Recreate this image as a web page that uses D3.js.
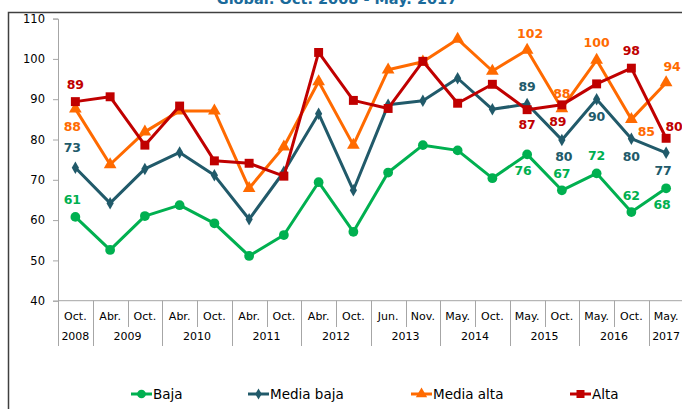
<!DOCTYPE html>
<html>
<head>
<meta charset="utf-8">
<title>Global: Oct. 2008 - May. 2017</title>
<script src="https://d3js.org/d3.v7.min.js"></script>
<style>
body { margin: 0; background: #fff; }
svg { display: block; font-family: "DejaVu Sans", Verdana, sans-serif; }
</style>
</head>
<body>
<svg width="682" height="409"></svg>
<script>
// categories (month row) and year groups
var months = ["Oct.","Abr.","Oct.","Abr.","Oct.","Abr.","Oct.","Abr.","Oct.","Jun.","Nov.","May.","Oct.","May.","Oct.","May.","Oct.","May."];
var years = ["2008","2009","2009","2010","2010","2011","2011","2012","2012","2013","2013","2014","2014","2015","2015","2016","2016","2017"];

// series values
var baja      = [60.8,52.6,61.0,63.7,59.2,51.1,56.3,69.4,57.1,71.8,78.6,77.3,70.4,76.3,67.4,71.6,62.0,67.9];
var mediaBaja = [73.0,64.2,72.7,76.8,71.1,60.2,72.0,86.4,67.4,88.6,89.6,95.2,87.5,88.8,79.9,90.0,80.2,76.7];
var mediaAlta = [87.6,73.8,81.9,87.1,87.1,67.9,78.2,94.4,78.6,97.3,99.3,104.9,97.0,102.2,87.7,99.7,85.0,94.1];
var alta      = [89.4,90.6,78.6,88.3,74.7,74.1,70.9,101.6,89.7,87.7,99.4,89.0,93.7,87.4,88.6,93.8,97.7,80.3];

var yTicks = [40,50,60,70,80,90,100,110];

var series = [
  {name:"Baja",       values:baja,      color:"#00b050", symbol:d3.symbolCircle,   size:75},
  {name:"Media baja", values:mediaBaja, color:"#215a6a", symbol:d3.symbolDiamond,  size:45},
  {name:"Media alta", values:mediaAlta, color:"#ff6a00", symbol:d3.symbolTriangle, size:70},
  {name:"Alta",       values:alta,      color:"#c00000", symbol:d3.symbolSquare,   size:80}
];

// data labels: series index, point index, text offset
var labels = [
  [3,0,0,-13],[3,13,0,19],[3,14,-4,21],[3,16,0,-13],[3,17,8,-7],
  [2,0,-3,22],[2,13,3,-12],[2,14,0,-10],[2,15,0,-13],[2,16,15,17],[2,17,6,-12],
  [1,0,-3,-16],[1,13,0,-13],[1,14,2,21],[1,15,0,22],[1,16,0,22],[1,17,-3,22],
  [0,0,-3,-13],[0,13,-4,21],[0,14,0,-12],[0,15,0,-13],[0,16,0,-12],[0,17,-4,21]
];

var svg = d3.select("svg");

var x = d3.scaleBand().domain(d3.range(months.length)).range([58, 683.5]);
var y = d3.scaleLinear().domain([40,110]).range([300.7, 18.6]);

// outer frame
svg.append("rect")
  .attr("x", 8.5).attr("y", 12.5).attr("width", 700).attr("height", 420)
  .attr("fill", "none").attr("stroke", "#404040").attr("stroke-width", 1.5);

// title (cut off at the top, as in the original)
svg.append("text")
  .attr("x", 337).attr("y", 3.5)
  .attr("text-anchor", "middle")
  .attr("font-size", 14.5).attr("font-weight", "bold")
  .attr("fill", "#1a6a9a")
  .text("Global: Oct. 2008 - May. 2017");

// y axis
var yAxis = svg.append("g")
  .attr("transform", "translate(58,0)")
  .call(d3.axisLeft(y).tickValues(yTicks).tickSize(5).tickPadding(8).tickFormat(d3.format("d")));
yAxis.select(".domain").attr("stroke", "#a6a6a6");
yAxis.selectAll(".tick line").attr("stroke", "#a6a6a6");
yAxis.selectAll("text").attr("font-size", 11.5).attr("fill", "#000")
  .attr("font-family", "DejaVu Sans, Verdana, sans-serif");

// x axis line
svg.append("line")
  .attr("x1", 58).attr("x2", 683.5)
  .attr("y1", y(40)).attr("y2", y(40))
  .attr("stroke", "#a6a6a6");

// month separators and labels
var xa = svg.append("g").attr("font-size", 11).attr("text-anchor", "middle");
d3.range(months.length + 1).forEach(function(i) {
  var bx = Math.round(58 + i * x.bandwidth()) + 0.5;
  var newYear = i == 0 || i == months.length || years[i] != years[i-1];
  xa.append("line")
    .attr("x1", bx).attr("x2", bx)
    .attr("y1", y(40)).attr("y2", newYear ? 346 : 327)
    .attr("stroke", "#a6a6a6");
});
xa.selectAll("text.m").data(months).enter().append("text")
  .attr("class", "m")
  .attr("x", function(d, i) { return x(i) + x.bandwidth() / 2; })
  .attr("y", 320)
  .text(function(d) { return d; });

var yearGroups = [];
years.forEach(function(yr, i) {
  var last = yearGroups[yearGroups.length - 1];
  if (last && last.year == yr) last.end = i; else yearGroups.push({year: yr, start: i, end: i});
});
xa.selectAll("text.y").data(yearGroups).enter().append("text")
  .attr("class", "y")
  .attr("x", function(d) { return (x(d.start) + x(d.end) + x.bandwidth()) / 2; })
  .attr("y", 340)
  .text(function(d) { return d.year; });

// lines and markers
var line = d3.line()
  .x(function(d, i) { return x(i) + x.bandwidth() / 2; })
  .y(function(d) { return y(d); });

series.forEach(function(s) {
  var g = svg.append("g");
  g.append("path")
    .attr("d", line(s.values))
    .attr("fill", "none")
    .attr("stroke", s.color)
    .attr("stroke-width", 3)
    .attr("stroke-linejoin", "round");
  g.selectAll("path.pt").data(s.values).enter().append("path")
    .attr("class", "pt")
    .attr("transform", function(d, i) { return "translate(" + (x(i) + x.bandwidth() / 2) + "," + y(d) + ")"; })
    .attr("d", d3.symbol().type(s.symbol).size(s.size))
    .attr("fill", s.color);
});

// data labels
svg.append("g").selectAll("text").data(labels).enter().append("text")
  .attr("x", function(d) { return x(d[1]) + x.bandwidth() / 2 + d[2]; })
  .attr("y", function(d) { return y(series[d[0]].values[d[1]]) + d[3]; })
  .attr("text-anchor", "middle")
  .attr("font-size", 12.5).attr("font-weight", "bold")
  .attr("fill", function(d) { return series[d[0]].color; })
  .text(function(d) { return Math.round(series[d[0]].values[d[1]]); });

// legend
var legendX = [131, 248, 411, 570];
var lg = svg.append("g").selectAll("g").data(series).enter().append("g")
  .attr("transform", function(d, i) { return "translate(" + legendX[i] + ",394)"; });
lg.append("line")
  .attr("x1", 0).attr("x2", 21)
  .attr("stroke", function(d) { return d.color; })
  .attr("stroke-width", 3);
lg.append("path")
  .attr("transform", "translate(10.5,0)")
  .attr("d", function(d) { return d3.symbol().type(d.symbol).size(d.size * 0.8)(); })
  .attr("fill", function(d) { return d.color; });
lg.append("text")
  .attr("x", 22).attr("y", 5)
  .attr("font-size", 13.5)
  .text(function(d) { return d.name; });
</script>
</body>
</html>
